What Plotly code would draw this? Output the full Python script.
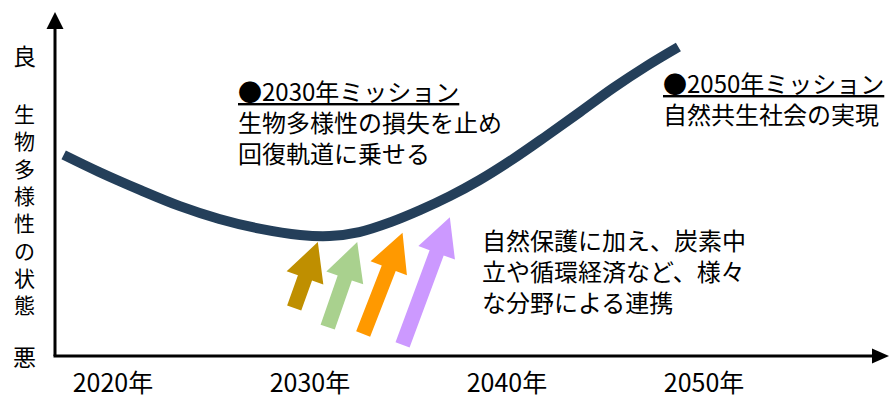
import math
import plotly.graph_objects as go

# ---------------- data ----------------
years = [2017.5, 2019.3, 2021.4, 2023.4, 2025.4, 2027.5, 2029.5, 2031.0, 2032.5,
         2034.1, 2035.6, 2037.1, 2038.6, 2040.3, 2042.0, 2043.7, 2045.4, 2047.1,
         2048.7]
state = [56.5, 51.7, 46.6, 42.1, 38.5, 35.7, 34.0, 33.7, 34.8,
         37.6, 41.0, 44.9, 49.4, 55.3, 61.8, 68.5, 75.3, 81.5,
         86.8]

tick_years = [2020, 2030, 2040, 2050]
tick_labels = ["2020年", "2030年", "2040年", "2050年"]

arrow_tail_year = [2029.2, 2030.9, 2032.7, 2034.7]
arrow_tail_val = [13.5, 8.1, 6.2, 3.1]
arrow_tip_year = [2030.4, 2032.4, 2034.7, 2037.1]
arrow_tip_val = [32.0, 32.0, 34.6, 39.0]
arrow_colors = ["#BF8F00", "#A9D18E", "#FF9900", "#CC99FF"]

y_label_top = "良"
y_label_mid = "生物多様性の状態"
y_label_bottom = "悪"

text_2030 = ["<u>●2030年ミッション</u>", "生物多様性の損失を止め", "回復軌道に乗せる"]
text_2050 = ["<u>●2050年ミッション</u>", "自然共生社会の実現"]
text_coop = ["自然保護に加え、炭素中", "立や循環経済など、様々", "な分野による連携"]

# ---------------- layout geometry ----------------
W, H = 889, 401
M_L, M_R, M_T, M_B = 55, 0, 0, 45
PLOT_W = W - M_L - M_R
PLOT_H = H - M_T - M_B
X_RANGE = [2017.06, 2059.39]
Y_RANGE = [0, 100]
SX = PLOT_W / (X_RANGE[1] - X_RANGE[0])
SY = PLOT_H / (Y_RANGE[1] - Y_RANGE[0])
FONT = "Noto Sans CJK JP"
CURVE_COLOR = "#243F5A"


def pp_x(px):
    """pixel x -> paper x"""
    return (px - M_L) / PLOT_W


def pp_y(py):
    """pixel y -> paper y"""
    return (M_T + PLOT_H - py) / PLOT_H


def arrow_poly(x0, y0, x1, y1, shaft=15.0, head_w=39.0, head_l=38.0):
    u0, v0, u1, v1 = x0 * SX, y0 * SY, x1 * SX, y1 * SY
    dx, dy = u1 - u0, v1 - v0
    L = math.hypot(dx, dy)
    ux, uy = dx / L, dy / L
    nx, ny = -uy, ux
    bx, by = u1 - head_l * ux, v1 - head_l * uy
    pts = [
        (u0 + nx * shaft / 2, v0 + ny * shaft / 2),
        (bx + nx * shaft / 2, by + ny * shaft / 2),
        (bx + nx * head_w / 2, by + ny * head_w / 2),
        (u1, v1),
        (bx - nx * head_w / 2, by - ny * head_w / 2),
        (bx - nx * shaft / 2, by - ny * shaft / 2),
        (u0 - nx * shaft / 2, v0 - ny * shaft / 2),
    ]
    xs = [p[0] / SX for p in pts] + [pts[0][0] / SX]
    ys = [p[1] / SY for p in pts] + [pts[0][1] / SY]
    return xs, ys


fig = go.Figure()

for tx, tv, hx, hv, col in zip(arrow_tail_year, arrow_tail_val, arrow_tip_year,
                               arrow_tip_val, arrow_colors):
    xs, ys = arrow_poly(tx, tv, hx, hv)
    fig.add_trace(go.Scatter(x=xs, y=ys, fill="toself", fillcolor=col,
                             mode="lines", line=dict(width=0, color=col),
                             hoverinfo="skip", showlegend=False))

fig.add_trace(go.Scatter(x=years, y=state, mode="lines",
                         line=dict(color=CURVE_COLOR, width=10, shape="spline",
                                   smoothing=1.0),
                         showlegend=False, hoverinfo="skip"))

annotations = []
# y-axis label (vertical text)
annotations.append(dict(x=pp_x(24), y=pp_y(55), text=y_label_top,
                        font=dict(family=FONT, size=23, color="#000000")))
annotations.append(dict(x=pp_x(24), y=pp_y(208), text="<br>".join(y_label_mid),
                        font=dict(family=FONT, size=21, color="#000000")))
annotations.append(dict(x=pp_x(24), y=pp_y(356), text=y_label_bottom,
                        font=dict(family=FONT, size=23, color="#000000")))
for a in annotations:
    a.update(xref="paper", yref="paper", showarrow=False, xanchor="center",
             yanchor="middle", align="center")

for lines, left, center in [(text_2030, 236, 122), (text_2050, 661, 98),
                            (text_coop, 480, 270)]:
    annotations.append(dict(x=pp_x(left), y=pp_y(center), xref="paper",
                            yref="paper", text="<br>".join(lines),
                            showarrow=False, xanchor="left", yanchor="middle",
                            align="left",
                            font=dict(family=FONT, size=24, color="#000000")))

# axes drawn as arrows
ax_col = "#000000"
shapes = [
    dict(type="line", xref="paper", yref="paper", x0=0, y0=0, x1=0,
         y1=pp_y(28), line=dict(color=ax_col, width=3)),
    dict(type="path", xref="paper", yref="paper",
         path="M {a},{b} L {c},{b} L {d},{e} Z".format(
             a=-8.5 / PLOT_W, c=8.5 / PLOT_W, d=0, b=pp_y(29), e=pp_y(12)),
         fillcolor=ax_col, line=dict(width=0)),
    dict(type="line", xref="paper", yref="paper", x0=-1.5 / PLOT_W, y0=0,
         x1=pp_x(874), y1=0, line=dict(color=ax_col, width=3)),
    dict(type="path", xref="paper", yref="paper",
         path="M {a},{b} L {a},{c} L {d},0 Z".format(
             a=pp_x(872), b=7.5 / PLOT_H, c=-7.5 / PLOT_H, d=pp_x(889)),
         fillcolor=ax_col, line=dict(width=0)),
]

fig.update_layout(
    width=W, height=H,
    margin=dict(l=M_L, r=M_R, t=M_T, b=M_B, pad=0),
    paper_bgcolor="white", plot_bgcolor="white",
    showlegend=False,
    annotations=annotations,
    shapes=shapes,
    xaxis=dict(range=X_RANGE, tickvals=tick_years, ticktext=tick_labels,
               showgrid=False, zeroline=False, showline=False, ticks="",
               ticklabelstandoff=10,
               tickfont=dict(family=FONT, size=25, color="#000000")),
    yaxis=dict(range=Y_RANGE, showgrid=False, zeroline=False, showline=False,
               showticklabels=False, ticks=""),
)

fig.write_html("out.html")
